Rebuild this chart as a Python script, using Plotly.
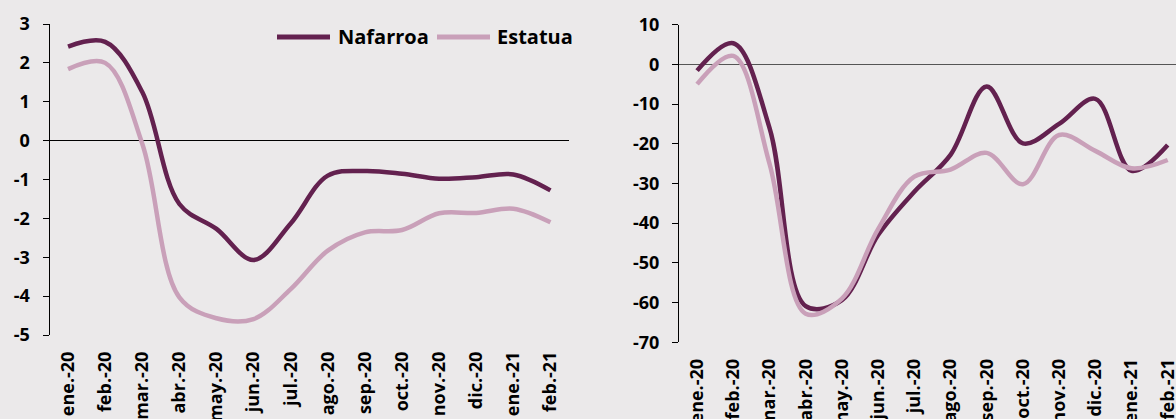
import plotly.graph_objects as go

months = ["ene.-20", "feb.-20", "mar.-20", "abr.-20", "may.-20", "jun.-20", "jul.-20",
          "ago.-20", "sep.-20", "oct.-20", "nov.-20", "dic.-20", "ene.-21", "feb.-21"]

left_nafarroa = [2.42, 2.54, 1.25, -1.63, -2.27, -3.07, -2.13, -0.90, -0.78, -0.85, -0.98, -0.94, -0.87, -1.28]
left_estatua = [1.84, 2.00, -0.08, -4.03, -4.57, -4.59, -3.82, -2.83, -2.36, -2.30, -1.87, -1.86, -1.75, -2.10]

right_nafarroa = [-1.6, 5.3, -16.0, -60.9, -59.4, -43.0, -32.1, -22.8, -5.6, -19.9, -15.0, -8.7, -26.8, -20.3]
right_estatua = [-5.0, 2.1, -25.0, -62.8, -59.0, -41.5, -28.3, -26.5, -22.3, -30.2, -17.8, -21.8, -26.2, -24.1]

series_names = ["Nafarroa", "Estatua"]

left_ticks = [3, 2, 1, 0, -1, -2, -3, -4, -5]
left_ticktext = ["3", "2", "1", "0", "-1", "-2", "-3", "-4", "-5"]
right_ticks = [10, 0, -10, -20, -30, -40, -50, -60, -70]
right_ticktext = ["10", "0", "-10", "-20", "-30", "-40", "-50", "-60", "-70"]

DARK = "#63214f"
PINK = "#c9a0b9"
BG = "#ebe9ea"
FONT = dict(family="Open Sans", size=18, color="#000000", weight="bold")
LEGFONT = dict(family="Open Sans", size=20, color="#000000", weight="bold")

fig = go.Figure()
fig.add_trace(go.Scatter(x=months, y=left_nafarroa, name=series_names[0], mode="lines",
                         line=dict(color=DARK, width=4.5, shape="spline"), xaxis="x", yaxis="y"))
fig.add_trace(go.Scatter(x=months, y=left_estatua, name=series_names[1], mode="lines",
                         line=dict(color=PINK, width=4.5, shape="spline"), xaxis="x", yaxis="y"))
fig.add_trace(go.Scatter(x=months, y=right_nafarroa, name=series_names[0], mode="lines",
                         line=dict(color=DARK, width=4.5, shape="spline"), xaxis="x2", yaxis="y2"))
fig.add_trace(go.Scatter(x=months, y=right_estatua, name=series_names[1], mode="lines",
                         line=dict(color=PINK, width=4.5, shape="spline"), xaxis="x2", yaxis="y2"))

W, H = 1176, 419
xcommon = dict(showline=False, showgrid=False, zeroline=False, tickangle=-90, ticks="",
               tickfont=FONT, ticklabelstandoff=12, type="category", automargin=False)
ycommon = dict(showline=True, linecolor="#000000", linewidth=1, showgrid=False, ticks="outside",
               ticklen=6, tickcolor="#000000", tickfont=FONT, ticklabelstandoff=9, zeroline=True,
               zerolinewidth=1, automargin=False)

legend_items = [(277, 330, 336, DARK), (437, 490, 495, PINK)]
shapes, annotations = [], []
for (x0, x1, xt, col), name in zip(legend_items, series_names):
    shapes.append(dict(type="line", xref="paper", yref="paper", x0=x0 / W, x1=x1 / W,
                       y0=1 - 37 / H, y1=1 - 37 / H, line=dict(color=col, width=5)))
    annotations.append(dict(xref="paper", yref="paper", x=xt / W, y=1 - 37 / H, xanchor="left",
                            yanchor="middle", text=name, showarrow=False, font=LEGFONT))

fig.update_layout(
    template="none",
    width=W, height=H,
    paper_bgcolor=BG, plot_bgcolor=BG,
    margin=dict(l=0, r=0, t=0, b=0, autoexpand=False),
    font=FONT,
    showlegend=False,
    shapes=shapes,
    annotations=annotations,
    xaxis=dict(domain=[49.5 / W, 569 / W], range=[-0.5, 13.5], anchor="y", **xcommon),
    yaxis=dict(domain=[1 - 335 / H, 1 - 24 / H], range=[-5, 3], tickvals=left_ticks,
               ticktext=left_ticktext, anchor="x", zerolinecolor="#000000", **ycommon),
    xaxis2=dict(domain=[679 / W, 1.0], range=[-0.5, 13.5 - (679 + 14 * 36.2 - W) / 36.2], anchor="y2", **xcommon),
    yaxis2=dict(domain=[1 - 342.3 / H, 1 - 24.6 / H], range=[-70, 10], tickvals=right_ticks,
                ticktext=right_ticktext, anchor="x2", zerolinecolor="#555555", **ycommon),
)

fig.write_html("out.html", config={"displayModeBar": False},
               post_script="document.body.style.margin='0';document.body.style.overflow='hidden';"
                           "document.body.style.background='" + BG + "';")
